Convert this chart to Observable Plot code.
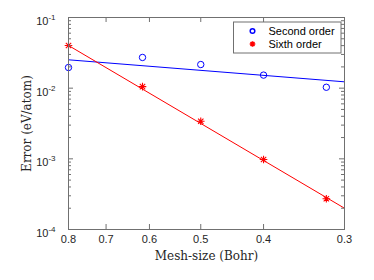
<!DOCTYPE html>
<html>
<head>
<meta charset="utf-8">
<script src="https://cdn.jsdelivr.net/npm/d3@7"></script>
<script src="https://cdn.jsdelivr.net/npm/@observablehq/plot@0.6"></script>
<style>
  html, body { margin: 0; padding: 0; background: #fff; }
  #chart { width: 374px; height: 280px; }
</style>
</head>
<body>
<div id="chart"></div>
<script>
// ---- data ----
const meshSize = [0.8, 0.615, 0.5, 0.4, 0.32];
const secondOrder = [0.0196, 0.0272, 0.0216, 0.0153, 0.0103];
const sixthOrder = [0.0402, 0.0105, 0.0034, 0.00098, 0.000272];
const fitX = [0.8, 0.3];
const secondFit = [0.0252, 0.0123];
const sixthFit = [0.0402, 0.0002];
const xTicks = [0.8, 0.7, 0.6, 0.5, 0.4, 0.3];
const xTickLabels = ["0.8", "0.7", "0.6", "0.5", "0.4", "0.3"];
const yTicks = [1e-4, 1e-3, 1e-2, 1e-1];
const yExponents = ["-4", "-3", "-2", "-1"];
const yMinor = [2,3,4,5,6,7,8,9].flatMap(m => [1e-4, 1e-3, 1e-2].map(d => m * d));
const seriesNames = ["Second order", "Sixth order"];
const xLabel = "Mesh-size (Bohr)";
const yLabel = "Error (eV/atom)";

const blue = "#0000ff", red = "#ff0000", axisColor = "#707070";
const W = 374, H = 280, mL = 68, mR = 30, mT = 17, mB = 51;
const pw = W - mL - mR, ph = H - mT - mB;

const pts2 = meshSize.map((x, i) => ({x, y: secondOrder[i]}));
const pts6 = meshSize.map((x, i) => ({x, y: sixthOrder[i]}));
const fit2 = fitX.map((x, i) => ({x, y: secondFit[i]}));
const fit6 = fitX.map((x, i) => ({x, y: sixthFit[i]}));

// MATLAB-style 8-point asterisk
const star = {
  draw(ctx, size) {
    const r = Math.sqrt(size / Math.PI);
    const d = r * Math.SQRT1_2;
    ctx.moveTo(-r, 0); ctx.lineTo(r, 0);
    ctx.moveTo(0, -r); ctx.lineTo(0, r);
    ctx.moveTo(-d, -d); ctx.lineTo(d, d);
    ctx.moveTo(-d, d); ctx.lineTo(d, -d);
  }
};

const sans = "'Liberation Sans', Arial, Helvetica, sans-serif";
const serif = "'DejaVu Serif', 'Liberation Serif', serif";

const plot = Plot.plot({
  width: W, height: H,
  marginLeft: mL, marginRight: mR, marginTop: mT, marginBottom: mB,
  style: {fontFamily: sans, fontSize: "11px", color: "#262626", background: "#fff"},
  x: {type: "log", domain: [0.8, 0.3], axis: null},
  y: {type: "log", domain: [1e-4, 1e-1]},
  marks: [
    // fitted lines
    Plot.line(fit2, {x: "x", y: "y", stroke: blue, strokeWidth: 1}),
    Plot.line(fit6, {x: "x", y: "y", stroke: red, strokeWidth: 1}),
    // data markers
    Plot.dot(pts2, {x: "x", y: "y", r: 3.2, stroke: blue, strokeWidth: 1, fill: "none"}),
    Plot.dot(pts6, {x: "x", y: "y", r: 3.8, symbol: star, stroke: red, strokeWidth: 1.1, fill: "none"}),
    // inward ticks
    Plot.ruleX(xTicks, {x: d => d, insetTop: ph - 5, stroke: axisColor}),
    Plot.ruleX(xTicks, {x: d => d, insetBottom: ph - 5, stroke: axisColor}),
    Plot.ruleY(yTicks, {y: d => d, insetRight: pw - 5, stroke: axisColor}),
    Plot.ruleY(yTicks, {y: d => d, insetLeft: pw - 5, stroke: axisColor}),
    Plot.ruleY(yMinor, {y: d => d, insetRight: pw - 3, stroke: axisColor}),
    Plot.ruleY(yMinor, {y: d => d, insetLeft: pw - 3, stroke: axisColor}),
    // tick labels
    Plot.text(xTicks, {x: d => d, text: (d, i) => xTickLabels[i], frameAnchor: "bottom", dy: 13.5, fontSize: 11, fill: "#262626"}),
    Plot.axisY(yTicks, {anchor: "left", tickSize: 0, tickPadding: 13, tickFormat: () => "10", label: null, fontSize: 11, dy: 4}),
    // axis titles
    Plot.text([xLabel], {text: d => d, frameAnchor: "bottom", dy: 30, fontFamily: serif, fontSize: 12, fill: "#262626"}),
    Plot.text([yLabel], {text: d => d, frameAnchor: "left", textAnchor: "middle", dx: -41, rotate: -90, fontFamily: serif, fontSize: 12, fill: "#262626"}),
    // box
    Plot.frame({stroke: axisColor}),
    // legend
    Plot.frame({insetLeft: 165, insetRight: 3.5, insetTop: 4.5, insetBottom: ph - 35.5, fill: "#fff", stroke: axisColor}),
    Plot.dot([seriesNames[0]], {frameAnchor: "top-right", dx: -92, dy: 13.5, r: 2.3, stroke: blue, fill: "none"}),
    Plot.dot([seriesNames[1]], {frameAnchor: "top-right", dx: -92, dy: 26.5, r: 2.8, symbol: star, stroke: red, fill: "none"}),
    Plot.text([seriesNames[0]], {text: d => d, frameAnchor: "top-right", dx: -76, dy: 13.5, textAnchor: "start", lineAnchor: "middle", fontSize: 11, fill: "#000"}),
    Plot.text([seriesNames[1]], {text: d => d, frameAnchor: "top-right", dx: -76, dy: 26.5, textAnchor: "start", lineAnchor: "middle", fontSize: 11, fill: "#000"})
  ]
});

document.getElementById("chart").appendChild(plot);

// superscript exponents for the log tick labels
d3.select(plot).selectAll('g[aria-label="y-axis tick label"] text').each(function(d, i) {
  const t = d3.select(this);
  t.text("10");
  t.append("tspan").attr("dy", "-5").attr("font-size", "8").text(yExponents[i]);
});
</script>
</body>
</html>
